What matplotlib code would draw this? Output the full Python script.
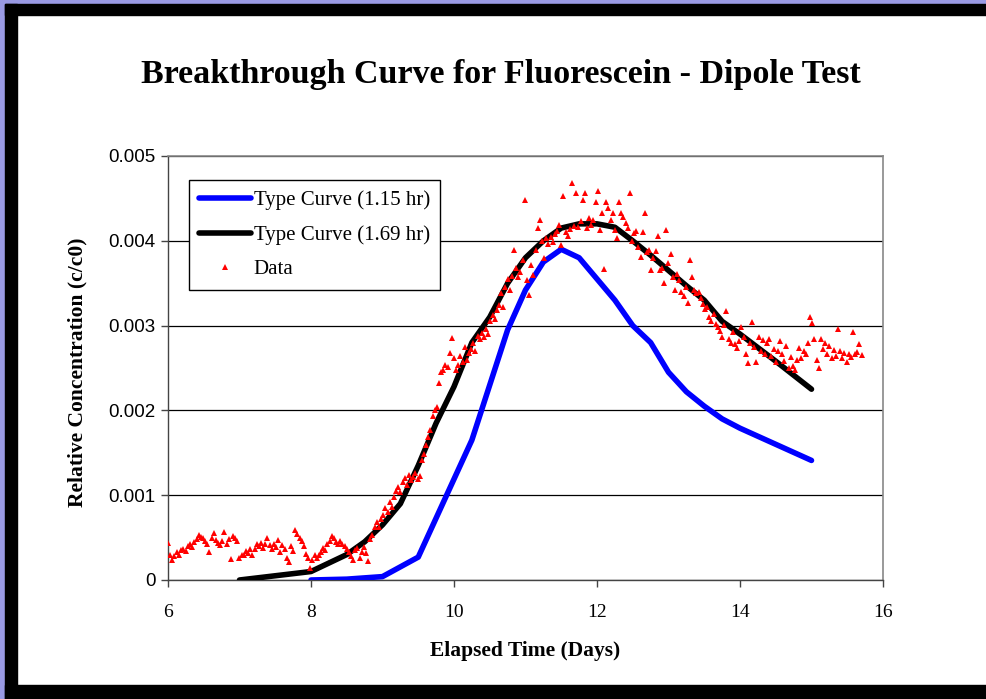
import numpy as np
import matplotlib
matplotlib.use("Agg")
import matplotlib.pyplot as plt
from matplotlib.patches import Rectangle

# Type curve 1.15 hr (blue)
blue_days = [8.0, 8.5, 9.0, 9.5, 10.25, 10.75, 11.0, 11.25, 11.5, 11.75, 12.0, 12.25,
             12.5, 12.75, 13.0, 13.25, 13.5, 13.75, 14.0, 14.5, 15.0]
blue_conc = [0.0, 0.00001, 0.00004, 0.00027, 0.00165, 0.00295, 0.00342, 0.00375, 0.0039,
             0.0038, 0.00355, 0.0033, 0.0030, 0.0028, 0.00245, 0.00222, 0.00205, 0.0019,
             0.00179, 0.0016, 0.00141]

# Type curve 1.69 hr (black)
black_days = [7.0, 7.5, 8.0, 8.25, 8.5, 8.75, 9.0, 9.25, 9.5, 9.75, 10.0, 10.25, 10.5,
              10.75, 11.0, 11.25, 11.5, 11.75, 12.0, 12.25, 12.5, 12.75, 13.0, 13.25,
              13.5, 13.75, 14.0, 14.5, 15.0]
black_conc = [0.0, 0.00005, 0.0001, 0.0002, 0.0003, 0.00045, 0.00065, 0.0009, 0.00135,
              0.00185, 0.00228, 0.0028, 0.0031, 0.0035, 0.0038, 0.004, 0.00415, 0.0042,
              0.0042, 0.00416, 0.004, 0.00383, 0.00365, 0.00347, 0.0033, 0.00305, 0.0029,
              0.00258, 0.00225]

# Measured data (concentration in units of 1e-4)
data_days = [
    6.00, 6.03, 6.06, 6.09, 6.12, 6.15, 6.18, 6.21, 6.25, 6.28, 6.31, 6.34, 6.37, 6.40,
    6.43, 6.46, 6.49, 6.52, 6.55, 6.58, 6.61, 6.64, 6.67, 6.70, 6.73, 6.76, 6.79, 6.82,
    6.85, 6.88, 6.91, 6.94, 6.97, 7.00, 7.03, 7.06, 7.09, 7.12, 7.15, 7.18, 7.21, 7.24,
    7.27, 7.30, 7.33, 7.36, 7.39, 7.42, 7.45, 7.48, 7.51, 7.54, 7.57, 7.60, 7.63, 7.66,
    7.69, 7.72, 7.75, 7.78, 7.81, 7.84, 7.87, 7.90, 7.93, 7.96, 7.99, 8.02, 8.05, 8.08,
    8.11, 8.14, 8.17, 8.20, 8.23, 8.26, 8.29, 8.32, 8.35, 8.38, 8.41, 8.44, 8.47, 8.50,
    8.53, 8.56, 8.59, 8.62, 8.65, 8.68, 8.71, 8.74, 8.77, 8.80, 8.83, 8.86, 8.89, 8.92,
    8.95, 8.98, 9.01, 9.04, 9.07, 9.10, 9.13, 9.16, 9.19, 9.22, 9.25, 9.28, 9.31, 9.34,
    9.37, 9.40, 9.43, 9.46, 9.49, 9.52, 9.55, 9.58, 9.61, 9.64, 9.67, 9.70, 9.73, 9.76,
    9.79, 9.82, 9.85, 9.88, 9.91, 9.94, 9.97, 10.00, 10.03, 10.06, 10.09, 10.12, 10.15,
    10.18, 10.21, 10.24, 10.27, 10.30, 10.33, 10.36, 10.39, 10.42, 10.45, 10.48, 10.51,
    10.54, 10.57, 10.60, 10.63, 10.66, 10.69, 10.72, 10.75, 10.78, 10.81, 10.84, 10.87,
    10.90, 10.93, 10.96, 10.99, 11.02, 11.05, 11.08, 11.11, 11.14, 11.17, 11.20, 11.23,
    11.26, 11.29, 11.32, 11.35, 11.38, 11.41, 11.44, 11.47, 11.50, 11.53, 11.56, 11.59,
    11.62, 11.65, 11.68, 11.71, 11.74, 11.77, 11.80, 11.83, 11.86, 11.89, 11.92, 11.95,
    11.98, 12.01, 12.04, 12.07, 12.10, 12.13, 12.16, 12.19, 12.22, 12.25, 12.28, 12.31,
    12.34, 12.37, 12.40, 12.43, 12.46, 12.49, 12.52, 12.55, 12.58, 12.61, 12.64, 12.67,
    12.70, 12.73, 12.76, 12.79, 12.82, 12.85, 12.88, 12.91, 12.94, 12.97, 13.00, 13.03,
    13.06, 13.09, 13.12, 13.15, 13.18, 13.21, 13.24, 13.27, 13.30, 13.33, 13.36, 13.39,
    13.42, 13.45, 13.48, 13.51, 13.54, 13.57, 13.60, 13.63, 13.66, 13.69, 13.72, 13.75,
    13.78, 13.81, 13.84, 13.87, 13.90, 13.93, 13.96, 13.99, 14.02, 14.05, 14.08, 14.11,
    14.14, 14.17, 14.20, 14.23, 14.26, 14.29, 14.32, 14.35, 14.38, 14.41, 14.44, 14.47,
    14.50, 14.53, 14.56, 14.59, 14.62, 14.65, 14.68, 14.71, 14.74, 14.77, 14.80, 14.83,
    14.86, 14.89, 14.92, 14.95, 14.98, 15.01, 15.04, 15.07, 15.10, 15.13, 15.16, 15.19,
    15.22, 15.25, 15.28, 15.31, 15.34, 15.37, 15.40, 15.43, 15.46, 15.49, 15.52, 15.55,
    15.58, 15.61, 15.64, 15.67, 15.70,
]
data_conc_e4 = [
    4.4, 3.0, 2.4, 2.8, 3.3, 3.0, 3.5, 3.7, 3.4, 4.0, 4.2, 3.9, 4.5, 4.8,
    5.3, 5.1, 4.9, 4.6, 4.3, 3.3, 5.0, 5.6, 4.7, 4.4, 4.1, 4.6, 5.7, 4.2,
    4.8, 2.5, 5.2, 5.0, 4.6, 2.6, 3.0, 2.9, 3.4, 3.2, 3.7, 3.0, 3.6, 4.2,
    4.0, 4.4, 3.8, 4.3, 4.9, 4.1, 3.6, 4.3, 3.9, 4.7, 3.3, 4.1, 3.6, 2.6,
    2.1, 4.0, 3.4, 5.9, 5.4, 5.0, 4.6, 4.0, 3.1, 2.6, 1.4, 2.4, 3.0, 2.6,
    2.9, 3.3, 3.8, 3.5, 4.2, 4.6, 5.2, 4.9, 4.5, 4.3, 4.6, 4.2, 4.0, 3.6,
    3.3, 2.8, 2.4, 3.5, 3.8, 2.6, 3.3, 3.9, 3.2, 2.2, 4.8, 5.3, 6.2, 6.8,
    6.3, 7.2, 7.7, 8.5, 8.0, 9.2, 8.6, 9.8, 10.5, 11.0, 10.4, 11.6, 12.0, 11.2,
    12.4, 11.8, 12.1, 12.6, 11.9, 12.3, 14.1, 14.8, 15.9, 16.9, 17.7, 19.3, 20.0, 20.4,
    23.2, 24.5, 24.8, 25.3, 25.1, 26.8, 28.5, 26.2, 24.8, 25.3, 26.4, 25.7, 27.5,
    26.0, 26.8, 27.2, 28.0, 27.0, 28.8, 28.4, 29.1, 28.7, 29.6, 29.0, 30.5,
    31.3, 30.8, 31.8, 32.4, 33.8, 32.2, 34.6, 35.5, 34.2, 35.9, 38.9, 36.8,
    35.7, 36.3, 37.7, 44.8, 35.4, 33.6, 37.2, 36.0, 38.9, 41.5, 42.5, 40.0,
    38.0, 40.3, 39.6, 40.5, 39.9, 40.8, 41.2, 41.9, 39.5, 45.3, 41.0, 40.6,
    41.4, 46.8, 41.7, 45.6, 41.6, 42.3, 44.8, 45.6, 41.5, 42.7, 41.9, 42.4,
    44.6, 45.9, 41.3, 43.3, 36.7, 44.6, 43.9, 42.5, 43.3, 41.3, 40.3, 44.6,
    43.3, 42.8, 42.1, 41.5, 45.6, 40.0, 40.9, 41.2, 39.3, 38.1, 41.0, 43.3,
    38.7, 38.9, 36.6, 38.0, 38.8, 40.6, 36.5, 36.8, 35.0, 41.3, 37.4, 38.5,
    35.7, 34.2, 36.1, 35.4, 34.0, 33.5, 34.6, 32.7, 37.7, 35.7, 34.2, 33.8,
    34.0, 33.2, 32.6, 31.9, 32.2, 31.0, 30.6, 31.4, 30.2, 29.8, 29.4, 28.7,
    30.1, 31.7, 28.4, 28.0, 29.2, 27.8, 27.4, 28.2, 29.8, 28.6, 26.6, 25.6,
    28.0, 30.4, 27.5, 25.7, 28.6, 27.0, 28.3, 26.6, 27.9, 28.4, 26.4, 27.2,
    25.7, 27.0, 28.2, 26.7, 25.8, 27.6, 25.0, 26.3, 25.2, 24.8, 26.0, 27.4,
    26.2, 27.0, 26.6, 28.0, 31.0, 30.3, 28.4, 26.0, 25.0, 28.4, 27.2, 28.0,
    26.6, 27.6, 26.2, 27.1, 26.4, 29.6, 27.0, 26.2, 26.8, 25.7, 26.6, 26.3,
    29.2, 26.6, 26.9, 27.8, 26.5,
]

x_ticks = [6, 8, 10, 12, 14, 16]
y_ticks = [0, 0.001, 0.002, 0.003, 0.004, 0.005]
y_tick_labels = ["0", "0.001", "0.002", "0.003", "0.004", "0.005"]

W, H = 987, 699
fig = plt.figure(figsize=(W / 100, H / 100), dpi=100)
fig.patch.set_facecolor("white")

# outer frame: lavender strip, then thick black band
def frame_rect(x0, y0, w, h, color):
    fig.patches.append(Rectangle((x0 / W, 1 - (y0 + h) / H), w / W, h / H,
                                 transform=fig.transFigure, color=color, zorder=0))

frame_rect(0, 0, W, 4, "#9a9ae4")
frame_rect(0, 0, 5, H, "#9a9ae4")
frame_rect(5, 4, W - 5, 11, "black")
frame_rect(5, 4, 12, H - 4, "black")
frame_rect(5, 685, W - 5, 14, "black")

left, right, top, bottom = 168, 883, 156, 580
ax = fig.add_axes([left / W, 1 - bottom / H, (right - left) / W, (bottom - top) / H])

serif = "Liberation Serif"
sans = "Liberation Sans"

ax.plot(blue_days, blue_conc, color="#0000ff", lw=4.0, solid_capstyle="round",
        label="Type Curve (1.15 hr)", zorder=3)
ax.plot(black_days, black_conc, color="black", lw=4.0, solid_capstyle="round",
        label="Type Curve (1.69 hr)", zorder=4)
ax.plot(data_days, np.array(data_conc_e4) * 1e-4, linestyle="none", marker="^",
        markersize=5, color="#ff0000", markeredgewidth=0, label="Data", zorder=5)

ax.set_xlim(6, 16)
ax.set_ylim(0, 0.005)
ax.set_xticks(x_ticks)
ax.set_xticklabels([str(t) for t in x_ticks], fontfamily=serif, fontsize=14)
ax.set_yticks(y_ticks)
ax.set_yticklabels(y_tick_labels, fontfamily=sans, fontsize=13.5)
ax.tick_params(direction="out", length=5, width=1, color="#444444")
ax.tick_params(axis="x", pad=12)
ax.tick_params(axis="y", pad=4)

ax.yaxis.grid(True, color="black", linewidth=0.9)
ax.set_axisbelow(True)
for side in ["top", "right"]:
    ax.spines[side].set_color("#888888")
    ax.spines[side].set_linewidth(1.2)
for side in ["left", "bottom"]:
    ax.spines[side].set_color("#444444")
    ax.spines[side].set_linewidth(1.0)

fig.text(501 / W, 1 - 75 / H, "Breakthrough Curve for Fluorescein - Dipole Test",
         ha="center", va="center", fontfamily=serif, fontweight="bold", fontsize=24.5)
fig.text(525 / W, 1 - 651 / H, "Elapsed Time (Days)", ha="center", va="center",
         fontfamily=serif, fontweight="bold", fontsize=15.5)
fig.text(77 / W, 1 - 372 / H, "Relative Concentration (c/c0)", ha="center", va="center",
         rotation=90, fontfamily=serif, fontweight="bold", fontsize=15.5)

leg = ax.legend(loc="upper left", bbox_to_anchor=(189 / W, 1 - 180 / H),
                bbox_transform=fig.transFigure, prop={"family": serif, "size": 15},
                frameon=True, fancybox=False, shadow=False, borderaxespad=0,
                handlelength=2.5, handletextpad=0.1, labelspacing=0.72,
                borderpad=0.5, markerscale=1.0)
leg.get_frame().set_edgecolor("black")
leg.get_frame().set_linewidth(1.0)
leg.get_frame().set_alpha(1)

fig.savefig("out.png", dpi=100)
